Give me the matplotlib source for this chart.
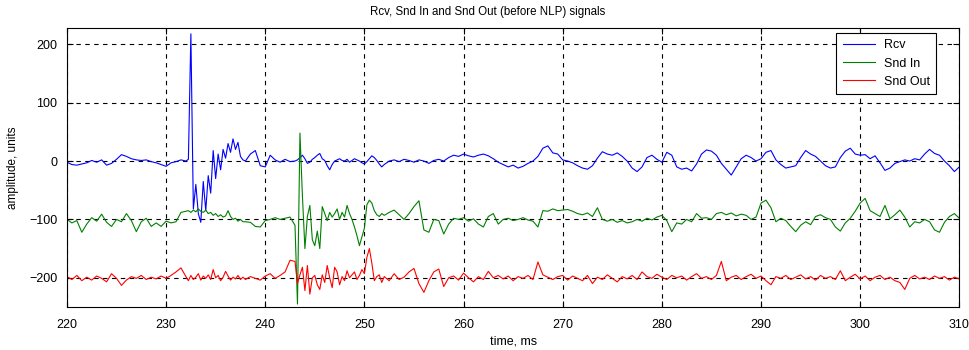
import numpy as np
import matplotlib
matplotlib.use('Agg')
import matplotlib.pyplot as plt

plt.rcParams['font.family'] = ['Liberation Sans', 'DejaVu Sans']
plt.rcParams['font.size'] = 8

# time grid (ms): finer sampling around the two bursts
t = np.concatenate([np.arange(220, 232, 0.5),
                    np.arange(232, 238, 0.25),
                    np.arange(238, 243, 0.5),
                    np.arange(243, 252, 0.25),
                    np.arange(252, 310.01, 0.5)])

rcv = [
    # 220 - 231.5
    -2, -6, -7, -5, -3, 1, -2, 2, -7, -4, 3, 11, 8, 4, 2, 1, 2, -1, -3, -6, -9, -3, -1, 2,
    # 232 - 237.75
    0, 3, 218, -82, -40, -90, -105, -35, -85, -25, -55, 18,
    -30, 12, -15, 20, 5, 30, 15, 38, 20, 32, 8, 2,
    # 238 - 242.5
    0, 12, 18, -8, -10, 10, 2, -2, 3, -1,
    # 243 - 251.75
    0, 2, 6, 10, 4, -4, -2, 3, 6, 10, 13, 4,
    1, -8, -15, -6, 0, 2, 4, 1, 0, 3, -2, 1,
    4, 2, 0, -3, -5, -1, 4, 9, 6, 1, -5, -10,
    # 252 - 310
    -6, 0, 2, -1, 3, 1, -2, 2, 0, -4,
    1, 3, 0, 6, 10, 8, 12, 9, 7, 10,
    12, 9, 4, -2, -6, -10, -7, -12, -9, -4,
    0, 8, 22, 26, 14, 12, 2, 0, -3, -8,
    -12, -14, -8, 5, 16, 12, 10, 14, 8, 0,
    -12, -18, -10, 6, 10, 3, -2, 15, 10, -10,
    -14, -12, -17, -5, 12, 19, 17, 10, -4, -14,
    -24, -10, 4, 10, 6, 0, 4, 15, 18, 2,
    -6, -12, -10, -8, 6, 18, 12, 8, 0, -8,
    -12, -10, 6, 17, 22, 12, 10, 11, 4, 9,
    -3, -16, -12, -4, -1, 2, 0, 4, 2, 12,
    20, 13, 10, 0, -8, -18, -10,
]

snd_in = [
    -100, -106, -102, -122, -108, -97, -103, -91, -105, -112, -100, -104,
    -90, -102, -121, -104, -98, -112, -106, -112, -103, -106, -104, -88,
    -86, -85, -88, -84, -87, -82, -86, -88, -84, -90, -88, -93,
    -90, -95, -92, -96, -94, -85, -95, -100, -98, -103, -100, -104,
    -104, -105, -112, -113, -102, -100, -97, -100, -98, -96,
    -110, -245, 48, -60, -150, -95, -76, -135, -145, -120, -150, -78,
    -90, -102, -88, -96, -90, -82, -100, -88, -96, -76, -90, -100,
    -113, -128, -145, -130, -115, -75, -67, -72, -85, -92, -95, -90,
    -93, -88, -84, -92, -100, -90, -78, -68, -118, -122,
    -100, -102, -125, -108, -98, -100, -97, -103, -99, -108,
    -113, -95, -90, -108, -100, -98, -102, -100, -97, -101,
    -103, -113, -85, -86, -82, -85, -84, -83, -86, -90,
    -92, -89, -95, -80, -100, -103, -100, -105, -102, -106,
    -104, -100, -103, -98, -101, -96, -93, -102, -121, -106,
    -108, -100, -104, -90, -98, -97, -100, -90, -88, -92,
    -89, -94, -91, -93, -100, -96, -72, -67, -80, -104,
    -98, -102, -112, -121, -110, -104, -109, -95, -92, -97,
    -100, -113, -120, -106, -98, -86, -72, -64, -85, -90,
    -95, -76, -99, -92, -84, -96, -113, -104, -106, -100,
    -104, -118, -122, -105, -95, -90, -98,
]

snd_out = [
    -198, -203, -196, -205, -199, -204, -197, -201, -207, -193, -201, -213,
    -204, -198, -201, -196, -203, -199, -202, -197, -201, -196, -190, -183,
    -198, -205, -196, -203, -199, -193, -204, -197, -201, -195, -203, -186,
    -200, -196, -205, -199, -189, -197, -204, -199, -202, -196, -203, -199,
    -203, -198, -201, -204, -197, -193, -201, -196, -190, -170,
    -172, -210, -195, -182, -222, -179, -228, -200, -196, -212, -220, -195,
    -208, -179, -200, -217, -182, -190, -212, -198, -205, -188, -200, -195,
    -190, -203, -196, -186, -193, -165, -150, -175, -205, -198, -195, -208,
    -198, -205, -193, -203, -199, -190, -184, -210, -225, -205,
    -190, -185, -215, -200, -197, -204, -192, -200, -207, -198,
    -203, -189, -200, -196, -202, -197, -205, -198, -201, -196,
    -203, -173, -195, -199, -203, -198, -196, -204, -197, -201,
    -205, -196, -210, -199, -203, -195, -201, -207, -198, -202,
    -196, -203, -190, -198, -201, -194, -199, -203, -196, -200,
    -197, -204, -198, -193, -201, -198, -203, -196, -172, -205,
    -199, -196, -203, -198, -194, -201, -197, -205, -212, -198,
    -201, -196, -203, -199, -195, -202, -198, -204, -196, -201,
    -198, -203, -188, -205, -199, -194, -202, -197, -205, -199,
    -196, -203, -199, -205, -208, -220, -201, -196, -202, -199,
    -203, -197, -201, -198, -204, -199, -202,
]

fig = plt.figure(figsize=(9.7, 3.5), dpi=100)
ax = fig.add_axes([0.069, 0.123, 0.920, 0.797])

ax.plot(t, rcv, color='#0000ff', lw=0.8, label='Rcv')
ax.plot(t, snd_in, color='#008000', lw=0.8, label='Snd In')
ax.plot(t, snd_out, color='#ff0000', lw=0.8, label='Snd Out')

ax.set_xlim(220, 310)
ax.set_ylim(-250, 228)
ax.set_xticks(np.arange(220, 311, 10))
ax.set_yticks([-200, -100, 0, 100, 200])
ax.grid(True, color='black', linestyle=(0, (4, 4)), linewidth=0.8)
ax.tick_params(direction='in', top=True, right=True, length=4, width=0.8, labelsize=9)
ax.tick_params(axis='x', pad=9)
ax.tick_params(axis='y', pad=7)
for s in ax.spines.values():
    s.set_linewidth(0.8)

ax.set_title('Rcv, Snd In and Snd Out (before NLP) signals', fontsize=8.3, pad=9, x=0.471)
ax.set_xlabel('time, ms', fontsize=9, labelpad=3)
ax.set_ylabel('amplitude, units', fontsize=8.5, labelpad=7)

leg = ax.legend(loc='upper right', bbox_to_anchor=(0.974, 0.982), borderaxespad=0,
                fontsize=9, fancybox=False, edgecolor='black', framealpha=1,
                handlelength=2.6, handletextpad=0.7, labelspacing=0.5, borderpad=0.5)
leg.get_frame().set_linewidth(0.8)

fig.savefig('out.png', dpi=100)
